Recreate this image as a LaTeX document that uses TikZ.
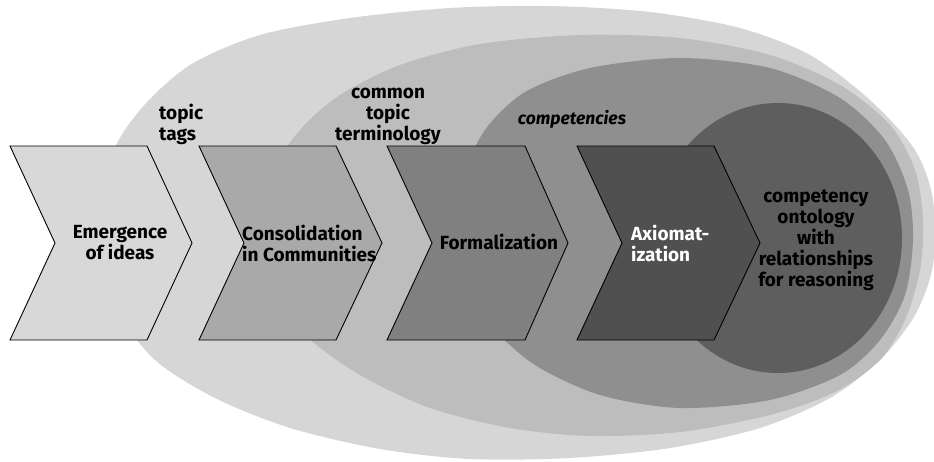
\documentclass[tikz,border=0pt]{standalone}
\usepackage{fontspec}
\setmainfont{Fira Sans}
\usepackage{tikz}

\definecolor{ringout}{HTML}{D6D6D6}
\definecolor{ringmid}{HTML}{BDBDBD}
\definecolor{ringin}{HTML}{8F8F8F}
\definecolor{ringcore}{HTML}{5E5E5E}
\definecolor{stageA}{HTML}{D8D8D8}
\definecolor{stageB}{HTML}{A9A9A9}
\definecolor{stageC}{HTML}{808080}
\definecolor{stageD}{HTML}{505050}

\tikzset{
  stage/.style={draw=black, line width=0.9pt, line join=miter},
  lbl/.style={font=\fontsize{19}{21}\selectfont\bfseries, inner sep=0pt, align=center},
}

\begin{document}
\begin{tikzpicture}[x=1pt,y=-1pt]
\useasboundingbox (0,0) rectangle (934,461);
% nested areas
\fill[ringout] plot[smooth cycle] coordinates {(100,243) (110,160) (140,110) (190,65) (260,35) (350,18) (450,8) (550,6) (650,12) (740,28) (810,55) (870,100) (915,150) (933,200) (933,265) (915,315) (880,360) (830,398) (760,428) (670,448) (570,458) (470,459) (380,449) (290,428) (215,398) (155,360) (118,310)};
\fill[ringmid] plot[smooth cycle] coordinates {(265,243) (275,170) (300,130) (340,95) (400,65) (480,44) (580,35) (680,38) (770,55) (840,85) (890,125) (915,170) (923,220) (920,270) (905,320) (880,360) (835,392) (770,415) (680,432) (590,436) (510,428) (430,408) (360,375) (305,335) (275,290)};
\fill[ringin] plot[smooth cycle] coordinates {(455,243) (462,180) (485,130) (525,92) (590,68) (680,58) (770,68) (840,98) (885,140) (908,190) (913,240) (905,295) (880,340) (840,375) (770,400) (680,408) (600,395) (535,365) (490,325) (465,285)};
\fill[ringcore] (778,238) ellipse [x radius=124, y radius=135];
% stages
\draw[stage,fill=stageA] (10,146) -- (147,146) -- (192,243) -- (147,340) -- (10,340) -- (55,243) -- cycle;
\draw[stage,fill=stageB] (199,146) -- (336,146) -- (382,243) -- (336,340) -- (199,340) -- (244,243) -- cycle;
\draw[stage,fill=stageC] (387,146) -- (525,146) -- (568,243) -- (525,340) -- (387,340) -- (432,243) -- cycle;
\draw[stage,fill=stageD] (577,146) -- (714,146) -- (760,243) -- (714,340) -- (577,340) -- (622,243) -- cycle;
% labels
\node[lbl,align=left,anchor=west] (tags) at (159,124) {topic\\tags};
\node[lbl] (terms) at (388,116) {common\\topic\\terminology};
\node[lbl,font=\fontsize{17.5}{21}\selectfont\bfseries\itshape] (comp) at (572,119) {competencies};
\node[lbl] (emerge) at (120,243) {Emergence\\of ideas};
\node[lbl,align=left,anchor=west] (consol) at (242,243) {Consolidation\\in Communities};
\node[lbl] (formal) at (499,242) {Formalization};
\node[lbl,align=left,anchor=west,text=white] (axiom) at (631,243) {Axiomat-\\ization};
\node[lbl] (onto) at (816,240) {competency\\ontology\\with\\relationships\\for reasoning};
\end{tikzpicture}
\end{document}
